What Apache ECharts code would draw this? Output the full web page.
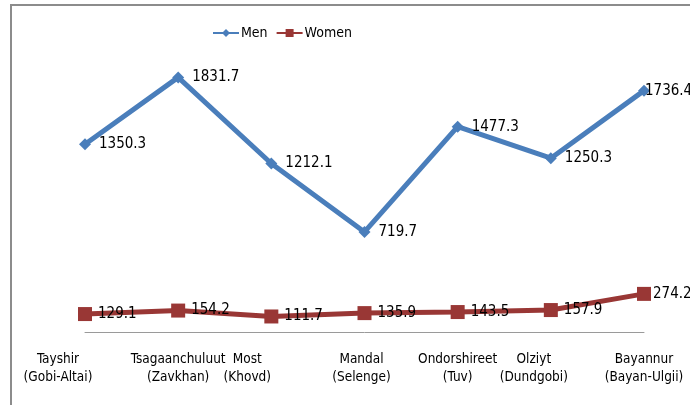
<!DOCTYPE html>
<html>
<head>
<meta charset="utf-8">
<script src="https://cdn.jsdelivr.net/npm/echarts@6/dist/echarts.min.js"></script>
<style>
  html, body { margin: 0; padding: 0; background: #fff; }
  #wrap { position: relative; width: 690px; height: 405px; }
  #frame { position: absolute; left: 10px; top: 4px; right: 0; bottom: 0;
           border-left: 2px solid #8c8c8c; border-top: 2px solid #8c8c8c; }
  #chart { position: absolute; left: 0; top: 0; width: 690px; height: 405px; }
</style>
</head>
<body>
<div id="wrap">
  <div id="frame"></div>
  <div id="chart"></div>
</div>
<script>
const FONT = "'Liberation Sans Narrow', 'DejaVu Sans Condensed', 'Liberation Sans', Arial, sans-serif"

const categories = [
  'Tayshir\n(Gobi-Altai)',
  'Tsagaanchuluut\n(Zavkhan)',
  'Most\n(Khovd)',
  'Mandal\n(Selenge)',
  'Ondorshireet\n(Tuv)',
  'Olziyt\n(Dundgobi)',
  'Bayannur\n(Bayan-Ulgii)'
]
const men = [1350.3, 1831.7, 1212.1, 719.7, 1477.3, 1250.3, 1736.4]
const women = [129.1, 154.2, 111.7, 135.9, 143.5, 157.9, 274.2]

// Excel nudged a few category labels left of their points
const labelShift = [27, 0, 24, 3, 0, 17, 0]

let myChart = echarts.init(document.getElementById('chart'))

// last point's value label sits on top of the marker in the original
function withLastLabel (arr, dx) {
  return arr.map((v, i) => i === arr.length - 1
    ? { value: v, label: { offset: [dx, 0] } }
    : v)
}

let option = {
  animation: false,
  textStyle: { fontFamily: FONT },
  legend: {
    top: 21,
    left: 207,
    itemWidth: 26,
    itemHeight: 10,
    itemGap: 8,
    textStyle: { fontFamily: FONT, fontSize: 14, color: '#000', padding: [0, 0, 0, -3] },
    data: ['Men', 'Women']
  },
  grid: {
    left: 85,
    right: 46,
    top: 54,
    bottom: 73,
    containLabel: false
  },
  xAxis: {
    type: 'category',
    boundaryGap: false,
    data: categories.map((c, i) => ({
      value: c,
      textStyle: { padding: [0, labelShift[i] * 2, 0, 0] }
    })),
    axisLine: { lineStyle: { color: '#9a9a9a', width: 1 } },
    axisTick: { show: false },
    axisLabel: {
      interval: 0,
      margin: 18,
      color: '#000',
      fontFamily: FONT,
      fontSize: 13.5,
      lineHeight: 18
    }
  },
  yAxis: {
    type: 'value',
    min: 0,
    max: 2000,
    show: false,
    splitLine: { show: false }
  },
  series: [
    {
      name: 'Men',
      type: 'line',
      data: withLastLabel(men, -13),
      symbol: 'diamond',
      symbolSize: 12,
      itemStyle: { color: '#4a7ebb' },
      lineStyle: { color: '#4a7ebb', width: 5 },
      label: {
        show: true,
        position: 'right',
        distance: 8,
        color: '#000',
        fontFamily: FONT,
        fontSize: 15
      }
    },
    {
      name: 'Women',
      type: 'line',
      data: withLastLabel(women, -4),
      symbol: 'rect',
      symbolSize: 14,
      itemStyle: { color: '#993735' },
      lineStyle: { color: '#993735', width: 5 },
      label: {
        show: true,
        position: 'right',
        distance: 6,
        color: '#000',
        fontFamily: FONT,
        fontSize: 15
      }
    }
  ]
}

myChart.setOption(option)
</script>
</body>
</html>
